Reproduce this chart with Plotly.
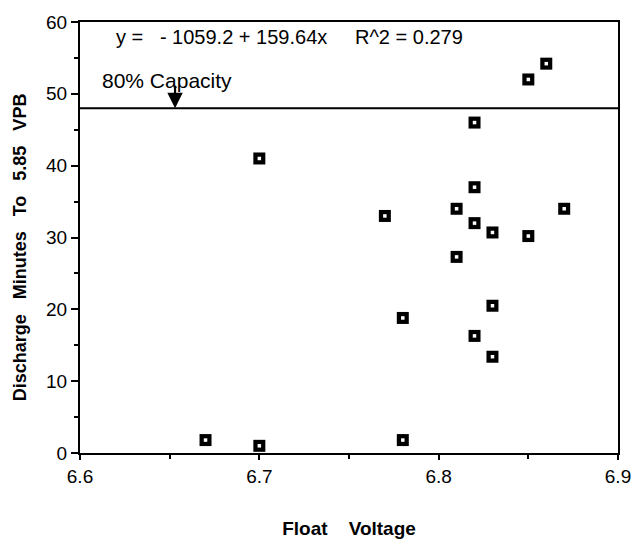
import plotly.graph_objects as go

float_voltage = [6.67, 6.70, 6.70, 6.77, 6.78, 6.78, 6.81, 6.81, 6.82, 6.82,
                 6.82, 6.82, 6.83, 6.83, 6.83, 6.85, 6.85, 6.86, 6.87]
discharge_min = [1.8, 1.0, 41.0, 33.0, 18.8, 1.8, 34.0, 27.3, 46.0, 37.0,
                 32.0, 16.3, 30.7, 20.5, 13.4, 52.0, 30.2, 54.2, 34.0]
capacity_80 = 48
x_ticks = [6.6, 6.7, 6.8, 6.9]
y_ticks = [0, 10, 20, 30, 40, 50, 60]

fig = go.Figure()
fig.add_trace(go.Scatter(x=float_voltage, y=discharge_min, mode="markers",
                         marker=dict(symbol="square", size=12, color="black",
                                     line=dict(width=0)),
                         showlegend=False, hoverinfo="skip"))
fig.add_trace(go.Scatter(x=float_voltage, y=discharge_min, mode="markers",
                         marker=dict(symbol="square", size=3.5, color="white",
                                     line=dict(width=0)),
                         showlegend=False))

fig.add_shape(type="line", xref="x", yref="y", x0=6.6, x1=6.9,
              y0=capacity_80, y1=capacity_80, line=dict(color="black", width=2))

fig.add_annotation(x=6.653, y=capacity_80, xref="x", yref="y", text="",
                   showarrow=True, arrowhead=2, arrowsize=1.4, arrowwidth=2.2,
                   arrowcolor="black", ax=0, ay=-24)
fig.add_annotation(x=6.611, y=51.8, xref="x", yref="y", text="80% Capacity",
                   showarrow=False, xanchor="left", yanchor="middle",
                   font=dict(size=21, color="black"))
fig.add_annotation(x=6.619, y=57.9, xref="x", yref="y",
                   text="y =   - 1059.2 + 159.64x     R^2 = 0.279",
                   showarrow=False, xanchor="left", yanchor="middle",
                   font=dict(size=20, color="black"))

fig.update_layout(
    width=643, height=549,
    margin=dict(l=80, r=16, t=13, b=96),
    plot_bgcolor="white", paper_bgcolor="white",
    font=dict(family="Liberation Sans, Arial, sans-serif", color="black"),
    xaxis=dict(range=[6.6, 6.9], tickvals=x_ticks, ticktext=[str(v) for v in x_ticks],
               ticks="outside", ticklen=5, tickwidth=2, tickcolor="black",
               minor=dict(dtick=0.05, ticks="outside", ticklen=4, tickwidth=2, tickcolor="black"),
               showline=True, linecolor="black", linewidth=2, mirror=True,
               showgrid=False, zeroline=False,
               tickfont=dict(size=19),
               title=dict(text="<b>Float    Voltage</b>", font=dict(size=19), standoff=36)),
    yaxis=dict(range=[0, 60], tickvals=y_ticks,
               ticks="outside", ticklen=7, tickwidth=2, tickcolor="black",
               minor=dict(dtick=5, ticks="outside", ticklen=4, tickwidth=2, tickcolor="black"),
               showline=True, linecolor="black", linewidth=2, mirror=True,
               showgrid=False, zeroline=False,
               tickfont=dict(size=19),
               title=dict(text="<b>Discharge   Minutes   To   5.85   VPB&nbsp;&nbsp;&nbsp;&nbsp;</b>",
                          font=dict(size=18), standoff=15)),
)

fig.write_html("out.html", config={"displayModeBar": False},
               post_script="document.body.style.margin='0';document.body.style.overflow='hidden';")
